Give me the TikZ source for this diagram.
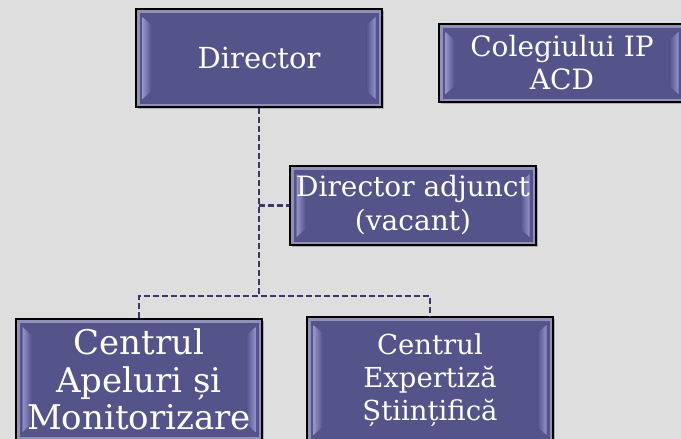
\documentclass[tikz,border=0pt]{standalone}
\usepackage{fontspec}
\setmainfont{DejaVu Serif}
\usetikzlibrary{shadows}
\definecolor{bg}{HTML}{DEDEDE}
\definecolor{face}{HTML}{54548A}
\definecolor{bevel}{HTML}{9090B8}
\definecolor{barlight}{HTML}{E0E0FF}
\definecolor{barmid}{HTML}{9494CC}
\definecolor{connc}{HTML}{38386A}
\begin{document}
\begin{tikzpicture}[x=1pt,y=-1pt,
  orgbox/.style={draw=black, line width=1.4pt, fill=bevel, inner sep=0pt,
    align=center, text=white, minimum width=246pt,
    drop shadow={shadow xshift=1.5pt, shadow yshift=-2pt, opacity=0.22, fill=black},
    path picture={
      \coordinate (pnw) at (path picture bounding box.north west);
      \coordinate (pne) at (path picture bounding box.north east);
      \coordinate (psw) at (path picture bounding box.south west);
      \coordinate (pse) at (path picture bounding box.south east);
      \fill[face] ([shift={(3.5,3.5)}]pnw) rectangle ([shift={(-3.5,-3.5)}]pse);
      \shade[left color=barmid, middle color=barlight, right color=face]
        ([shift={(6.5,8)}]pnw) -- ([shift={(15.5,16)}]pnw) -- ([shift={(15.5,-16)}]psw) -- ([shift={(6.5,-8)}]psw) -- cycle;
      \shade[left color=face, middle color=barlight, right color=barmid]
        ([shift={(-15.5,16)}]pne) -- ([shift={(-6.5,8)}]pne) -- ([shift={(-6.5,-8)}]pse) -- ([shift={(-15.5,-16)}]pse) -- cycle;
    }},
  connline/.style={draw=connc, line width=2.6pt, dash pattern=on 6pt off 3pt}]
\fill[bg] (0,0) rectangle (681,439);
\useasboundingbox (0,0) rectangle (681,439);

\coordinate (hub) at (259,296);
\node[orgbox, minimum height=98pt, font=\fontsize{29}{33}\selectfont] (dir) at (259,58) {Director};
\node[orgbox, minimum height=78pt, font=\fontsize{28}{33}\selectfont] (col) at (562,63) {Colegiului IP\\ACD};
\node[orgbox, minimum height=79pt, font=\fontsize{28}{34}\selectfont] (adj) at (413,205.5) {Director adjunct\\(vacant)};
\node[orgbox, minimum height=121pt, font=\fontsize{34}{37.5}\selectfont] (cam) at (139,379.5) {Centrul\\Apeluri și\\Monitorizare};
\node[orgbox, minimum height=126pt, font=\fontsize{27.5}{33}\selectfont] (ces) at (430,380) {Centrul\\Expertiză\\Științifică};

\draw[connline] (dir.south) -- (hub);
\draw[connline] (dir.south |- adj.west) -- (adj.west);
\draw[connline] (cam.north) |- (hub) -| (ces.north);
\end{tikzpicture}
\end{document}
